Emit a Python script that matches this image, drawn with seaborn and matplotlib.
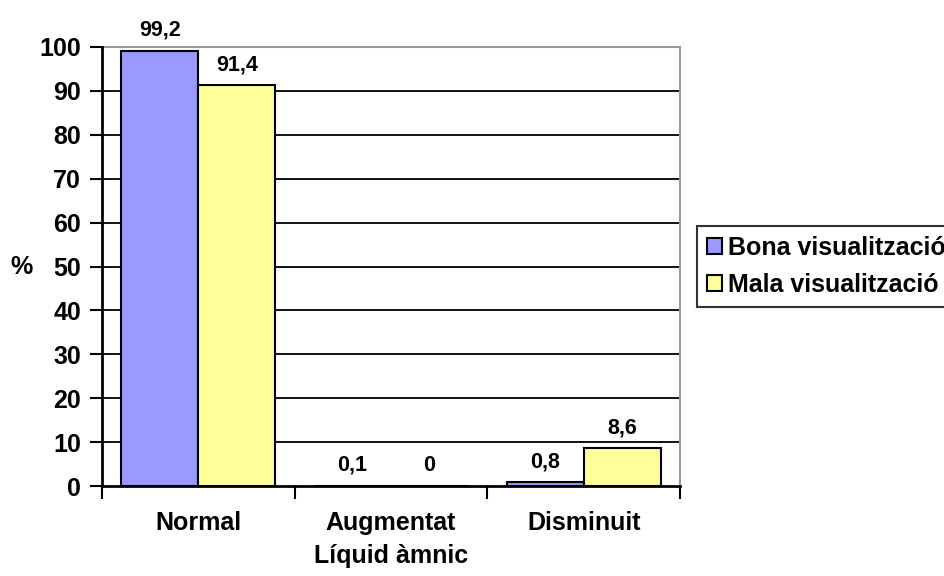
import matplotlib
matplotlib.use("Agg")
import matplotlib.pyplot as plt
import seaborn as sns
import pandas as pd
from matplotlib.ticker import FixedLocator

categories = ["Normal", "Augmentat", "Disminuit"]
series_names = ["Bona visualització", "Mala visualització"]
bona_values = [99.2, 0.1, 0.8]
mala_values = [91.4, 0.0, 8.6]
bona_labels = ["99,2", "0,1", "0,8"]
mala_labels = ["91,4", "0", "8,6"]
y_ticks = [0, 10, 20, 30, 40, 50, 60, 70, 80, 90, 100]
colors = ["#9999FF", "#FFFF99"]

df = pd.DataFrame({
    "Categoria": categories * 2,
    "Sèrie": [series_names[0]] * 3 + [series_names[1]] * 3,
    "Percentatge": bona_values + mala_values,
})

sns.set_theme(style="white")
plt.rcParams["font.family"] = ["Liberation Sans", "DejaVu Sans"]
plt.rcParams["font.weight"] = "bold"
plt.rcParams["text.color"] = "black"
plt.rcParams["axes.labelcolor"] = "black"
plt.rcParams["xtick.color"] = "black"
plt.rcParams["ytick.color"] = "black"

FS = 18

fig = plt.figure(figsize=(9.44, 5.76), dpi=100)
ax = fig.add_axes([102 / 944, 1 - 486 / 576, 578 / 944, 439 / 576])

sns.barplot(data=df, x="Categoria", y="Percentatge", hue="Sèrie",
            palette=colors, hue_order=series_names, order=categories,
            width=0.8, saturation=1, edgecolor="black", linewidth=1.5, ax=ax,
            errorbar=None, legend=True, zorder=3)

ax.set_xlim(-0.5, 2.5)
ax.set_ylim(0, 100)

# horizontal gridlines
for t in y_ticks[1:-1]:
    ax.axhline(t, color="black", linewidth=1.3, zorder=1)

ax.set_yticks(y_ticks)
ax.set_yticklabels([str(t) for t in y_ticks], fontsize=FS, fontweight="bold")
ax.tick_params(axis="y", direction="out", length=9, width=1.5, color="black",
               labelcolor="black", left=True, pad=6)

ax.set_xticks(range(len(categories)))
ax.set_xticklabels(categories, fontsize=FS, fontweight="bold")
ax.tick_params(axis="x", which="major", length=0, pad=18, labelcolor="black")
ax.xaxis.set_minor_locator(FixedLocator([-0.5, 0.5, 1.5, 2.5]))
ax.tick_params(axis="x", which="minor", direction="out", length=9, width=1.5,
               color="black", bottom=True)

ax.set_xlabel("Líquid àmnic", fontsize=FS, fontweight="bold", va="center")
ax.xaxis.set_label_coords(0.5, -(556 - 486) / 439)
ax.set_ylabel("%", fontsize=FS, fontweight="bold", rotation=0, va="center",
              ha="center")
ax.yaxis.set_label_coords(-80 / 578, 0.5)

for side in ["top", "right"]:
    ax.spines[side].set_color("#999999")
    ax.spines[side].set_linewidth(1.5)
for side in ["left", "bottom"]:
    ax.spines[side].set_color("black")
    ax.spines[side].set_linewidth(2)
ax.spines["top"].set_zorder(2)

# value labels above each bar
for cont, labels in zip(ax.containers, [bona_labels, mala_labels]):
    ax.bar_label(cont, labels=labels, padding=7, fontsize=15.5,
                 fontweight="bold", color="black", zorder=5)

handles, lbls = ax.get_legend_handles_labels()
ax.legend_.remove()
leg = fig.legend(handles, lbls, loc="upper left",
                 bbox_to_anchor=(697 / 944, 1 - 226 / 576),
                 bbox_transform=fig.transFigure,
                 fancybox=False, frameon=True, edgecolor="black",
                 prop={"weight": "bold", "size": FS},
                 handlelength=0.6, handleheight=0.6, handletextpad=0.25,
                 borderpad=0.4, labelspacing=0.5, borderaxespad=0)
leg.get_frame().set_linewidth(1.5)
for h in leg.legend_handles:
    h.set_edgecolor("black")
    h.set_linewidth(1.5)
for t in leg.get_texts():
    t.set_color("black")

fig.savefig("out.png", dpi=100)
